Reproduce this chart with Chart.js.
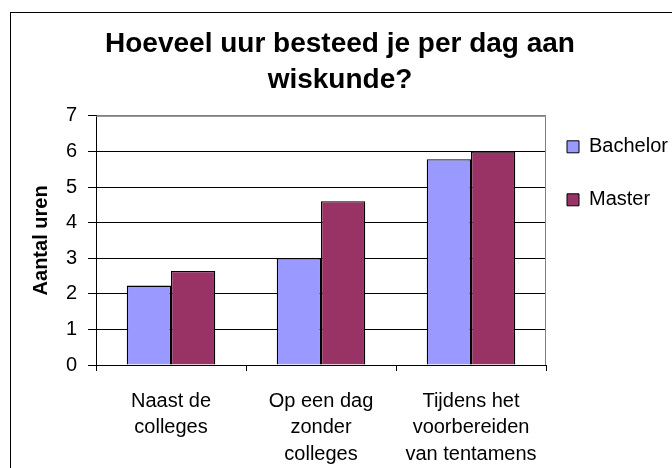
<!DOCTYPE html>
<html>
<head>
<meta charset="utf-8">
<script src="https://cdn.jsdelivr.net/npm/chart.js@4"></script>
<style>
  body { margin: 0; background: #fff; overflow: hidden; }
  #frame {
    position: absolute; left: 10px; top: 12px;
    width: 720px; height: 500px;
    border-left: 1px solid #000; border-top: 1px solid #000;
  }
  #chart1 { display: block; }
</style>
</head>
<body>
<div id="frame">
  <canvas id="chart1" width="658" height="470"></canvas>
</div>
<script>
var categories = [
    ['Naast de', 'colleges'],
    ['Op een dag', 'zonder', 'colleges'],
    ['Tijdens het', 'voorbereiden', 'van tentamens']
];
var bachelor = [2.23, 3.0, 5.78];
var master = [2.64, 4.6, 6.0];
var titleLines = ['Hoeveel uur besteed je per dag aan', 'wiskunde?'];
var yTitle = 'Aantal uren';

var FONT = "'Liberation Sans', Arial, sans-serif";

// grijze rand om het plotgebied (boven + rechts)
var plotBorder = {
    id: 'plotBorder',
    afterDatasetsDraw: function(chart){
        var a = chart.chartArea;
        var c = chart.ctx;
        c.save();
        c.strokeStyle = '#808080';
        c.lineWidth = 1;
        c.beginPath();
        c.moveTo(a.left, a.top + 0.5);
        c.lineTo(a.right - 0.5, a.top + 0.5);
        c.lineTo(a.right - 0.5, a.bottom);
        c.stroke();
        c.restore();
    }
};

var ctx = document.getElementById('chart1').getContext('2d');
var myChart = new Chart(ctx, {
    type: 'bar',
    data: {
        labels: categories,
        datasets: [{
            label: 'Bachelor',
            data: bachelor,
            backgroundColor: '#9999FF',
            borderColor: '#000000',
            borderWidth: 1.3
        }, {
            label: 'Master',
            data: master,
            backgroundColor: '#993366',
            borderColor: '#000000',
            borderWidth: 1.3
        }]
    },
    plugins: [plotBorder],
    options: {
        responsive: false,
        animation: false,
        layout: { padding: 0 },
        datasets: {
            bar: { categoryPercentage: 0.59, barPercentage: 1.0 }
        },
        plugins: {
            title: {
                display: true,
                text: titleLines,
                color: '#000',
                font: { family: FONT, size: 28, weight: 'bold', lineHeight: 1.3 },
                padding: { top: 13, bottom: 17 }
            },
            legend: {
                position: 'right',
                align: 'start',
                fullSize: false,
                maxWidth: 123,
                labels: {
                    color: '#000',
                    font: { family: FONT, size: 20, lineHeight: 1.6 },
                    boxWidth: 12,
                    boxHeight: 12,
                    padding: 21,
                    generateLabels: function(chart){
                        var items = Chart.defaults.plugins.legend.labels.generateLabels(chart);
                        for(var i = 0; i < items.length; i++){
                            items[i].text = [items[i].text];
                            items[i].lineWidth = 1;
                            items[i].strokeStyle = '#000';
                        }
                        return items;
                    }
                }
            },
            tooltip: { enabled: false }
        },
        scales: {
            x: {
                afterFit: function(scale){ scale.height = 118; },
                grid: {
                    drawOnChartArea: false,
                    color: '#000',
                    tickLength: 6,
                    tickColor: '#000'
                },
                border: { color: '#000', width: 1 },
                ticks: {
                    color: '#000',
                    padding: 17,
                    maxRotation: 0,
                    autoSkip: false,
                    font: { family: FONT, size: 20, lineHeight: 1.32 }
                }
            },
            y: {
                min: 0,
                max: 7,
                afterFit: function(scale){ scale.width = 85; },
                grid: {
                    color: function(c){ return c.tick && c.tick.value === 7 ? '#808080' : '#000'; },
                    tickColor: '#000',
                    tickLength: 8,
                    lineWidth: 1
                },
                border: { color: '#000', width: 1 },
                ticks: {
                    stepSize: 1,
                    color: '#000',
                    padding: 11,
                    font: { family: FONT, size: 20 }
                },
                title: {
                    display: true,
                    text: yTitle,
                    color: '#000',
                    font: { family: FONT, size: 20, weight: 'bold' },
                    padding: { top: 18, bottom: 0 }
                }
            }
        }
    }
});
</script>
</body>
</html>
